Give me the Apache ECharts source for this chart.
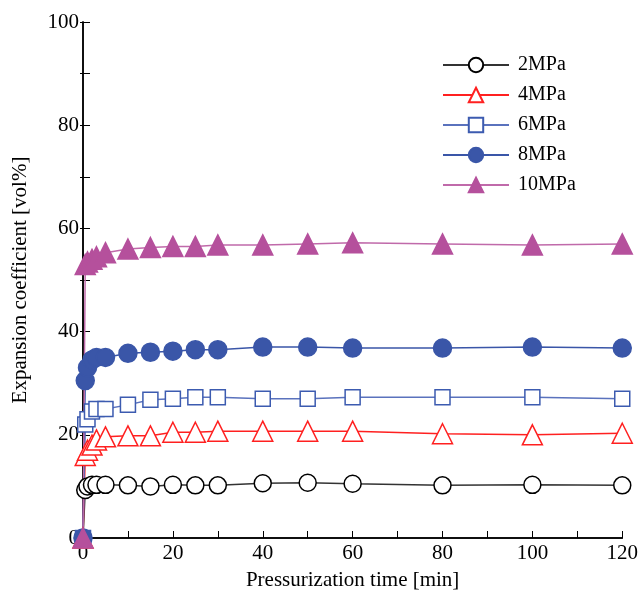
<!DOCTYPE html>
<html>
<head>
<meta charset="utf-8">
<script src="https://cdn.jsdelivr.net/npm/echarts@6/dist/echarts.min.js"></script>
<style>
html,body{margin:0;padding:0;background:#fff;}
#chart{width:641px;height:597px;}
</style>
</head>
<body>
<div id="chart"></div>
<script>
var times = [0, 0.5, 1, 2, 3, 5, 10, 15, 20, 25, 30, 40, 50, 60, 80, 100, 120];
var seriesNames = ['2MPa', '4MPa', '6MPa', '8MPa', '10MPa'];
var v2MPa  = [0, 9.3, 10.0, 10.3, 10.3, 10.3, 10.2, 10.0, 10.3, 10.2, 10.2, 10.6, 10.7, 10.5, 10.2, 10.3, 10.2];
var v4MPa  = [0, 16.0, 17.0, 18.0, 19.0, 19.6, 19.8, 19.8, 20.5, 20.5, 20.7, 20.7, 20.7, 20.7, 20.2, 20.0, 20.3];
var v6MPa  = [0, 22.0, 23.0, 24.5, 25.0, 25.0, 25.8, 26.8, 27.0, 27.3, 27.3, 27.0, 27.0, 27.3, 27.3, 27.3, 27.0];
var v8MPa  = [0, 30.5, 33.0, 34.5, 35.0, 35.0, 35.8, 36.0, 36.2, 36.5, 36.5, 37.0, 37.0, 36.8, 36.8, 37.0, 36.8];
var v10MPa = [0, 53.0, 53.5, 54.0, 54.5, 55.3, 56.0, 56.3, 56.5, 56.5, 56.8, 56.8, 57.0, 57.2, 57.0, 56.8, 57.0];
var xTicks = [0, 20, 40, 60, 80, 100, 120];
var yTicks = [0, 20, 40, 60, 80, 100];

function pairs(vals){ return times.map(function(t,i){ return [t, vals[i]]; }); }

var font = 'Liberation Serif, Times New Roman, serif';
var styles = [
  {color:'#000000', line:'#333333', symbol:'circle', size:17, fill:'#ffffff'},
  {color:'#ff2020', line:'#ff2020', symbol:'triangle', size:20, fill:'#ffffff'},
  {color:'#3c5bb0', line:'#5a72bd', symbol:'rect', size:15, fill:'#ffffff'},
  {color:'#3a56a8', line:'#3a56a8', symbol:'circle', size:18, fill:'#3a56a8'},
  {color:'#b5509c', line:'#c06aaa', symbol:'triangle', size:20, fill:'#b5509c'}
];
var allVals = [v2MPa, v4MPa, v6MPa, v8MPa, v10MPa];

var series = seriesNames.map(function(n, i){
  var s = styles[i];
  return {
    name: n, type: 'line', data: pairs(allVals[i]), clip: false,
    symbol: s.symbol, symbolSize: s.size, showAllSymbol: true,
    lineStyle: {color: s.line, width: 1.5},
    itemStyle: {color: s.fill, borderColor: s.color, borderWidth: 1.5},
    emphasis: {disabled: true},
    animation: false
  };
});

var chart = echarts.init(document.getElementById('chart'));
chart.setOption({
  backgroundColor: '#ffffff',
  animation: false,
  grid: {left: 83, right: 14, top: 22, bottom: 59, containLabel: false},
  legend: {
    orient: 'vertical', left: 437, top: 50, itemWidth: 66, itemHeight: 18, itemGap: 10,
    textStyle: {fontFamily: font, fontSize: 20, color: '#000', padding: [0, 0, 0, 4]},
    data: seriesNames
  },
  xAxis: [{
    type: 'value', min: 0, max: 120, interval: 10,
    name: 'Pressurization time [min]', nameLocation: 'middle', nameGap: 32,
    nameTextStyle: {fontFamily: font, fontSize: 21, color: '#000'},
    axisLine: {lineStyle: {color: '#000', width: 1.5}},
    axisTick: {inside: true, length: 7, lineStyle: {color: '#000', width: 1}},
    axisLabel: {fontFamily: font, fontSize: 21, color: '#000', margin: 5,
      formatter: function(v){ return xTicks.indexOf(v) >= 0 ? String(v) : ''; }},
    splitLine: {show: false}
  }, {
    type: 'value', min: 0, max: 120, interval: 10, position: 'top',
    axisLine: {show: true, lineStyle: {color: '#000', width: 1.5}},
    axisTick: {show: false}, axisLabel: {show: false}, splitLine: {show: false}
  }],
  yAxis: [{
    type: 'value', min: 0, max: 100, interval: 10,
    name: 'Expansion coefficient [vol%]', nameLocation: 'middle', nameGap: 52,
    nameTextStyle: {fontFamily: font, fontSize: 21, color: '#000'},
    axisLine: {show: true, lineStyle: {color: '#000', width: 1.5}},
    axisTick: {show: true, inside: true, length: 7, lineStyle: {color: '#000', width: 1}},
    axisLabel: {fontFamily: font, fontSize: 21, color: '#000', margin: 4,
      formatter: function(v){ return yTicks.indexOf(v) >= 0 ? String(v) : ''; }},
    splitLine: {show: false}
  }, {
    type: 'value', min: 0, max: 100, interval: 10, position: 'right',
    axisLine: {show: true, lineStyle: {color: '#000', width: 1.5}},
    axisTick: {show: true, inside: true, length: 3, lineStyle: {color: '#000', width: 1}},
    axisLabel: {show: false}, splitLine: {show: false}
  }],
  series: series
});
</script>
</body>
</html>
